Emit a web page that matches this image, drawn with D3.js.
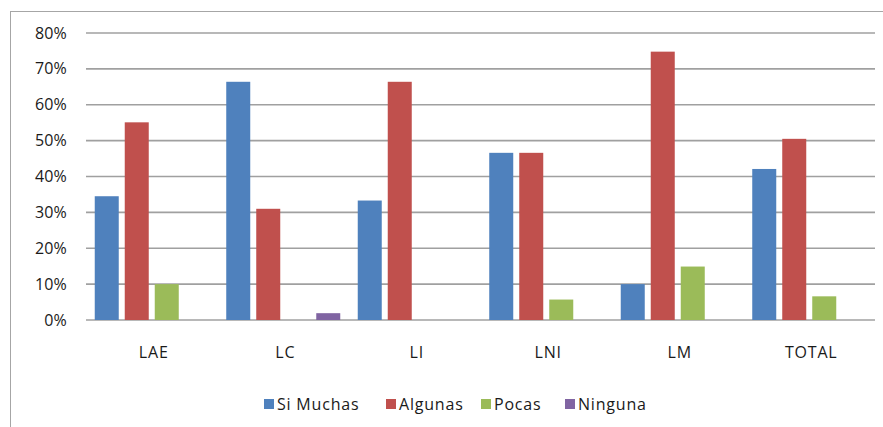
<!DOCTYPE html>
<html><head><meta charset="utf-8">
<script src="https://cdn.jsdelivr.net/npm/d3@7"></script>
<style>body{margin:0;background:#fff;} text{font-family:"Open Sans",sans-serif;fill:#1a1a1a;}</style>
</head><body>
<svg id="c" width="883" height="427"></svg>
<script>
const categories = ["LAE","LC","LI","LNI","LM","TOTAL"];
const seriesNames = ["Si Muchas","Algunas","Pocas","Ninguna"];
const siMuchas = [34.5, 66.4, 33.3, 46.6, 10.0, 42.1];
const algunas  = [55.1, 31.0, 66.4, 46.6, 74.8, 50.5];
const pocas    = [10.0, 0, 0, 5.7, 14.9, 6.6];
const ninguna  = [0, 1.9, 0, 0, 0, 0];
const yTicks = [0,10,20,30,40,50,60,70,80];
const colors = ["#4F81BD","#C0504D","#9BBB59","#8064A2"];

const seriesVals = [siMuchas, algunas, pocas, ninguna];
const svg = d3.select("#c");
svg.append("rect").attr("x",10.5).attr("y",11.5).attr("width",880).attr("height",430)
  .attr("fill","none").attr("stroke","#a6a6a6").attr("stroke-width",1);

const x0 = d3.scaleBand().domain(categories).range([86,875]).paddingInner(0.133).paddingOuter(0.0665);
const x1 = d3.scaleBand().domain(seriesNames).range([0,x0.bandwidth()]).paddingInner(0.2);
const y = d3.scaleLinear().domain([0,80]).range([320,33]);

svg.append("g").selectAll("line").data(yTicks).join("line")
  .attr("x1",86).attr("x2",875).attr("y1",d=>y(d)).attr("y2",d=>y(d))
  .attr("stroke","#a0a0a0").attr("stroke-width",1.6);

svg.append("g").selectAll("text").data(yTicks).join("text")
  .attr("x",67).attr("y",d=>y(d)+5.5).attr("text-anchor","end")
  .attr("font-size",16).attr("letter-spacing",0.2).text(d=>d+"%");

categories.forEach((c,i)=>{
  seriesNames.forEach((s,j)=>{
    const v = seriesVals[j][i];
    if(v<=0) return;
    svg.append("rect").attr("x",x0(c)+x1(s)).attr("width",x1.bandwidth())
      .attr("y",y(v)).attr("height",y(0)-y(v)).attr("fill",colors[j]);
  });
});

svg.append("g").selectAll("text").data(categories).join("text")
  .attr("x",d=>x0(d)+x0.bandwidth()/2+2).attr("y",358).attr("text-anchor","middle")
  .attr("font-size",16).attr("letter-spacing",0.8).text(d=>d);

const lx = [264,386,481,565];
const lg = svg.append("g");
seriesNames.forEach((s,j)=>{
  lg.append("rect").attr("x",lx[j]).attr("y",399).attr("width",10).attr("height",10).attr("fill",colors[j]);
  lg.append("text").attr("x",lx[j]+13).attr("y",410).attr("font-size",16).attr("letter-spacing",0.8).text(s);
});
</script>
</body></html>
